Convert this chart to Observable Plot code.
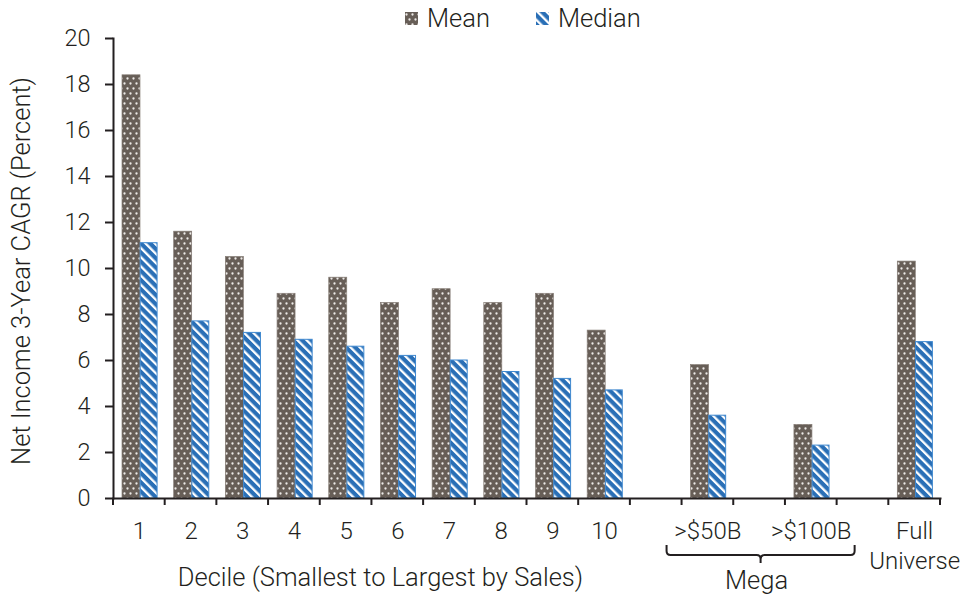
<!DOCTYPE html>
<html>
<head>
<meta charset="utf-8">
<script src="https://cdn.jsdelivr.net/npm/d3@7"></script>
<script src="https://cdn.jsdelivr.net/npm/@observablehq/plot@0.6"></script>
<style>
  html, body { margin: 0; padding: 0; background: #fff; }
  body { font-family: Roboto, "Liberation Sans", sans-serif; font-weight: 300; color: #231f20; width: 960px; height: 596px; overflow: hidden; }
  #legend { height: 32px; box-sizing: border-box; padding-top: 4px; display: flex; align-items: center; font-size: 25.5px; padding-left: 405px; }
  #legend .sw { width: 13px; height: 13px; display: inline-block; margin-right: 9px; }
  #legend .sw svg { display: block; }
  #legend .item2 { margin-left: 46px; }
  #chart { margin-top: -6px; }
  #chart svg { overflow: visible; }
</style>
</head>
<body>
<div id="legend">
  <span class="sw"><svg width="13" height="13"><rect width="13" height="13" fill="url(#dots)"></rect></svg></span><span>Mean</span>
  <span class="sw item2"><svg width="13" height="13"><rect width="13" height="13" fill="url(#stripes)"></rect></svg></span><span>Median</span>
</div>
<div id="chart"></div>
<script>
// ---- data ----
const categories = ["1", "2", "3", "4", "5", "6", "7", "8", "9", "10", ">$50B", ">$100B", "Full Universe"];
const meanValues = [18.4, 11.6, 10.5, 8.9, 9.6, 8.5, 9.1, 8.5, 8.9, 7.3, 5.8, 3.2, 10.3];
const medianValues = [11.1, 7.7, 7.2, 6.9, 6.6, 6.2, 6.0, 5.5, 5.2, 4.7, 3.6, 2.3, 6.8];
// slots on the x axis (blank slots separate the groups)
const xSlots = ["1", "2", "3", "4", "5", "6", "7", "8", "9", "10", "gapA", ">$50B", "gapB", ">$100B", "gapC", "Full Universe"];
const yTicks = [0, 2, 4, 6, 8, 10, 12, 14, 16, 18, 20];
const yLabel = "Net Income 3-Year CAGR (Percent)";
const xLabel = "Decile (Smallest to Largest by Sales)";
const groupLabel = "Mega";

(function () {
const rows = categories.map((c, i) => ({cat: c, mean: meanValues[i], median: medianValues[i]}));

const ink = "#231f20";
const FONT = "Roboto, 'Liberation Sans', sans-serif";

const plot = Plot.plot({
  width: 960,
  height: 570,
  marginLeft: 113,
  marginRight: 20,
  marginTop: 12,
  marginBottom: 98,
  style: {fontFamily: FONT, fontWeight: 300, fontSize: "24px", color: ink, background: "transparent", overflow: "visible"},
  x: {domain: xSlots, padding: 0, round: false, axis: null},
  y: {domain: [0, 20], axis: null},
  marks: [
    Plot.barY(rows, {x: "cat", y: "mean", fill: "url(#dots)", stroke: "#857c75", strokeWidth: 0.7, insetLeft: 9, insetRight: 24.7}),
    Plot.barY(rows, {x: "cat", y: "median", fill: "url(#stripes)", stroke: "#3f88cf", strokeWidth: 1, insetLeft: 27.2, insetRight: 7.6}),
    Plot.axisY({ticks: yTicks, tickSize: 8, tickPadding: 15, fontSize: 23.5, strokeWidth: 2, stroke: ink, fill: ink, label: null, tickFormat: d => String(d)}),
    Plot.frame({anchor: "left", stroke: ink, strokeWidth: 2}),
    Plot.frame({anchor: "bottom", stroke: ink, strokeWidth: 2}),
    Plot.text(rows, {x: "cat", y: () => 0, text: d => d.cat.replace(" ", "\n"), dy: 20, lineAnchor: "top", lineHeight: 1.22, fontSize: 24, fill: ink})
  ]
});

document.getElementById("chart").appendChild(plot);

// ---- patterns ----
const svg = d3.select(plot);
const defs = svg.insert("defs", ":first-child");
const dots = defs.append("pattern").attr("id", "dots").attr("patternUnits", "userSpaceOnUse")
  .attr("width", 6).attr("height", 10);
dots.append("rect").attr("width", 6).attr("height", 10).attr("fill", "#675e57");
dots.append("circle").attr("cx", 1.5).attr("cy", 2.5).attr("r", 1.15).attr("fill", "#eeebe8");
dots.append("circle").attr("cx", 4.5).attr("cy", 7.5).attr("r", 1.15).attr("fill", "#eeebe8");
const stripes = defs.append("pattern").attr("id", "stripes").attr("patternUnits", "userSpaceOnUse")
  .attr("width", 6.5).attr("height", 6.5).attr("patternTransform", "rotate(-45)");
stripes.append("rect").attr("width", 6.5).attr("height", 6.5).attr("fill", "#2a6fb6");
stripes.append("rect").attr("width", 2.3).attr("height", 6.5).attr("fill", "#ffffff");

// ---- annotations using the plot's own scales ----
const sx = plot.scale("x");
const sy = plot.scale("y");
const bw = sx.bandwidth;
const y0 = sy.apply(0);
const g = svg.append("g").attr("fill", "none").attr("stroke", ink).attr("stroke-width", 2);
// boundary tick marks on the x axis
const bounds = xSlots.map(s => sx.apply(s)).concat([sx.apply(xSlots[xSlots.length - 1]) + bw]);
bounds.forEach(bx => g.append("line").attr("x1", bx).attr("x2", bx).attr("y1", y0).attr("y2", y0 + 7));

// brace under the "Mega" group
const bl = sx.apply(">$50B") - 15;
const br = sx.apply(">$100B") + bw + 18;
const bc = (bl + br) / 2;
const bTop = y0 + 47, bMid = bTop + 10, bTip = bMid + 8;
g.append("path").attr("d",
  `M${bl},${bTop} L${bl},${bMid - 4} Q${bl},${bMid} ${bl + 4},${bMid} L${bc - 4},${bMid} Q${bc},${bMid} ${bc},${bMid + 4} L${bc},${bTip}
   M${bc},${bMid + 4} Q${bc},${bMid} ${bc + 4},${bMid} L${br - 4},${bMid} Q${br},${bMid} ${br},${bMid - 4} L${br},${bTop}`);

const t = svg.append("g").attr("fill", ink).attr("font-family", FONT).attr("font-weight", 300).attr("font-size", 25.5)
  .attr("text-anchor", "middle").attr("dominant-baseline", "central");
// x axis label (centred under the deciles)
const dc = (sx.apply("1") + sx.apply("10") + bw) / 2 + 9;
t.append("text").attr("x", dc).attr("y", y0 + 79).text(xLabel);
t.append("text").attr("x", bc - 4).attr("y", y0 + 82).text(groupLabel);
// y axis label
const yc = (sy.apply(0) + sy.apply(20)) / 2 + 3;
t.append("text").attr("transform", `translate(21,${yc}) rotate(-90)`).text(yLabel);
})();
</script>
</body>
</html>
